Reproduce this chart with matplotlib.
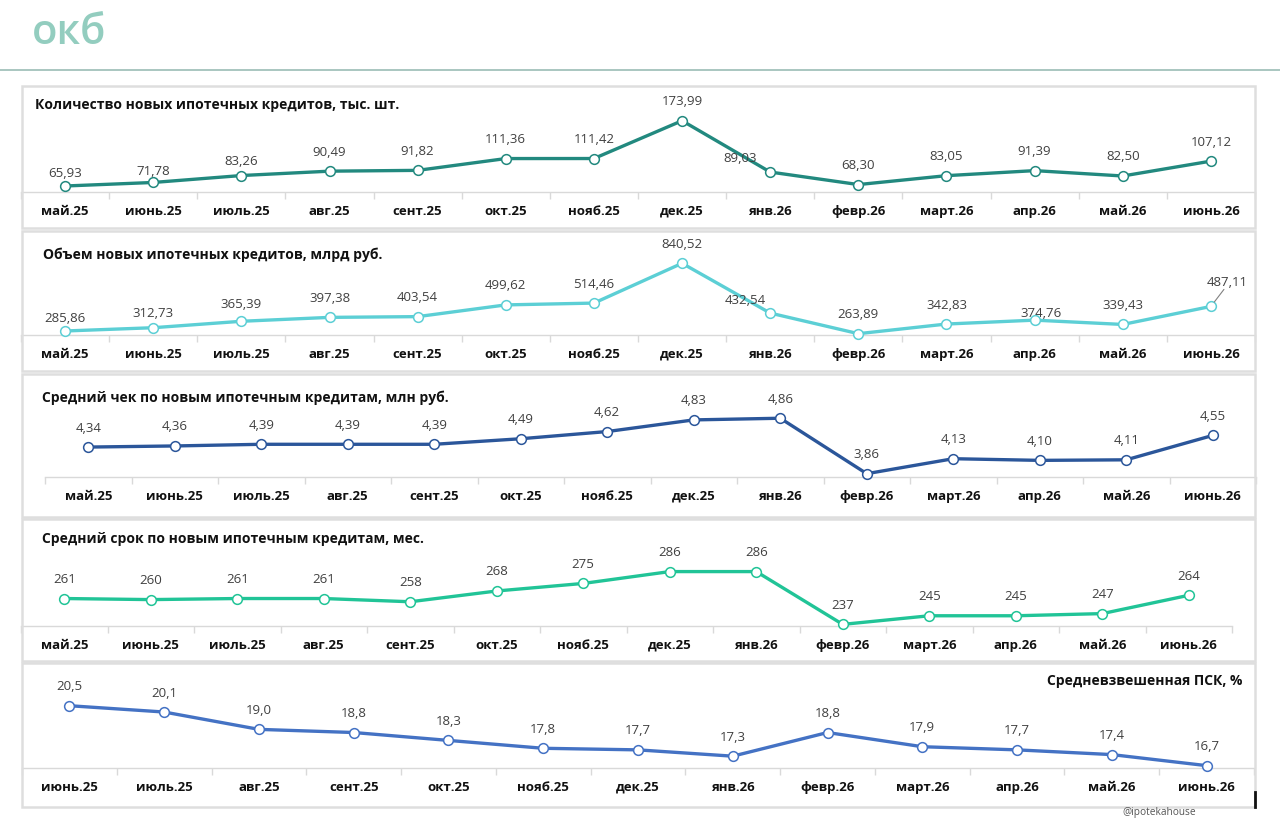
"""Ипотечные кредиты: пять панелей с линиями по месяцам."""

import matplotlib.pyplot as plt
from matplotlib.patches import Rectangle
from matplotlib.transforms import ScaledTranslation

W, H = 1280, 829

months_a = ["май.25", "июнь.25", "июль.25", "авг.25", "сент.25", "окт.25", "нояб.25",
            "дек.25", "янв.26", "февр.26", "март.26", "апр.26", "май.26", "июнь.26"]
months_b = months_a[1:]

loans_count = [65.93, 71.78, 83.26, 90.49, 91.82, 111.36, 111.42, 173.99,
               89.03, 68.30, 83.05, 91.39, 82.50, 107.12]
loans_volume = [285.86, 312.73, 365.39, 397.38, 403.54, 499.62, 514.46, 840.52,
                432.54, 263.89, 342.83, 374.76, 339.43, 487.11]
avg_check = [4.34, 4.36, 4.39, 4.39, 4.39, 4.49, 4.62, 4.83, 4.86, 3.86,
             4.13, 4.10, 4.11, 4.55]
avg_term = [261, 260, 261, 261, 258, 268, 275, 286, 286, 237, 245, 245, 247, 264]
psk = [20.5, 20.1, 19.0, 18.8, 18.3, 17.8, 17.7, 17.3, 18.8, 17.9, 17.7, 17.4, 16.7]

FONT = ["Open Sans", "DejaVu Sans"]
plt.rcParams["font.family"] = FONT


def rect(x0, y0, x1, y1):
    return [x0 / W, 1 - y1 / H, (x1 - x0) / W, (y1 - y0) / H]


def fmt(v, nd):
    return f"{v:.{nd}f}".replace(".", ",")


fig = plt.figure(figsize=(W / 100, H / 100), dpi=100)

# logo + rule
fig.text(32 / W, 1 - 33 / H, "окб", fontsize=30, fontweight="semibold",
         color="#93cdbf", va="center", ha="left")
fig.add_artist(plt.Line2D([0, 1], [1 - 71 / H] * 2, color="#a9c6c0", lw=1.4))

# panel frames
for y0, y1 in [(87, 229), (232, 372), (375, 518), (520, 662), (664, 808)]:
    fig.add_artist(Rectangle((22 / W, 1 - y1 / H), 1233 / W, (y1 - y0) / H,
                             transform=fig.transFigure, fill=False,
                             edgecolor="#dedede", lw=1.8))

panels = [
    dict(data=loans_count, cats=months_a, nd=2, color="#22897f",
         box=(21, 110, 1255, 193), ylim=(56, 193.4),
         title="Количество новых ипотечных кредитов, тыс. шт.", tpos=(35, 105, "left"),
         offsets={0: (0, 14), 1: (0, 12), 2: (0, 15), 8: (-30, 15)}),
    dict(data=loans_volume, cats=months_a, nd=2, color="#5ccfd5",
         box=(21, 250, 1255, 336), ylim=(253, 957.6),
         title="Объем новых ипотечных кредитов, млрд руб.", tpos=(43, 255, "left"),
         offsets={0: (0, 13), 1: (0, 15), 2: (0, 18), 8: (-25, 14), 11: (6, 8), 13: (16, 25)}),
    dict(data=avg_check, cats=months_a, nd=2, color="#2b569a",
         box=(45, 400, 1256, 478), ylim=(3.80, 5.207),
         title="Средний чек по новым ипотечным кредитам, млн руб.", tpos=(42, 398, "left"),
         offsets={}),
    dict(data=avg_term, cats=months_a, nd=0, color="#21c497",
         box=(21, 545, 1232, 627), ylim=(235.5, 311.6),
         title="Средний срок по новым ипотечным кредитам, мес.", tpos=(42, 539, "left"),
         offsets={}),
    dict(data=psk, cats=months_b, nd=1, color="#4472c4",
         box=(22, 690, 1254, 769), ylim=(16.55, 21.56),
         title="Средневзвешенная ПСК, %", tpos=(1242, 681, "right"),
         offsets={}),
]

# "д" has a deep descender and matplotlib drops that label a bit lower
nudge_up = ScaledTranslation(0, 1.2 / 100, fig.dpi_scale_trans)

for p in panels:
    ax = fig.add_axes(rect(*p["box"]))
    n = len(p["data"])
    x = list(range(n))
    ax.plot(x, p["data"], color=p["color"], lw=2.4, marker="o", markersize=7,
            markerfacecolor="white", markeredgecolor=p["color"], markeredgewidth=1.1,
            solid_capstyle="round", zorder=3, clip_on=False)
    ax.set_xlim(-0.5, n - 0.5)
    ax.set_ylim(*p["ylim"])
    for s in ("top", "right", "left"):
        ax.spines[s].set_visible(False)
    ax.spines["bottom"].set_color("#d9d9d9")
    ax.spines["bottom"].set_linewidth(1.0)
    ax.set_yticks([])
    ax.set_xticks(x, labels=p["cats"])
    ax.set_xticks([i - 0.5 for i in range(n + 1)], minor=True)
    ax.tick_params(axis="x", which="major", length=0, pad=16, labelsize=9.5)
    ax.tick_params(axis="x", which="minor", length=5, color="#d9d9d9", width=1)
    for lab in ax.get_xticklabels():
        lab.set_fontweight("bold")
        lab.set_color("#111111")
        lab.set_verticalalignment("baseline")
        if "д" in lab.get_text():
            lab.set_transform(lab.get_transform() + nudge_up)
    ax.patch.set_alpha(0)

    for i, v in enumerate(p["data"]):
        dx, dy = p["offsets"].get(i, (0, 20))
        ax.annotate(fmt(v, p["nd"]), (i, v), xytext=(dx, dy),
                    textcoords="offset pixels", ha="center", va="center",
                    fontsize=9.5, color="#404040", zorder=4,
                    annotation_clip=False)
        if p["data"] is loans_volume and i == n - 1:
            # leader line for the last label, as in the source
            ax.annotate("", (i, v), xytext=(dx - 3, dy - 8), textcoords="offset pixels",
                        arrowprops=dict(arrowstyle="-", color="#808080", lw=0.8,
                                        shrinkA=0, shrinkB=4),
                        annotation_clip=False)

    tx, ty, tha = p["tpos"]
    fig.text(tx / W, 1 - ty / H, p["title"], fontsize=10, fontweight="bold",
             color="#111111", ha=tha, va="center")

fig.text(1196 / W, 1 - 813 / H, "@ipotekahouse", fontsize=7.3, color="#555555",
         ha="right", va="center")
fig.add_artist(plt.Line2D([1255 / W] * 2, [1 - 793 / H, 1 - 808 / H],
                          color="#111111", lw=2))

fig.savefig("out.png", dpi=100)
